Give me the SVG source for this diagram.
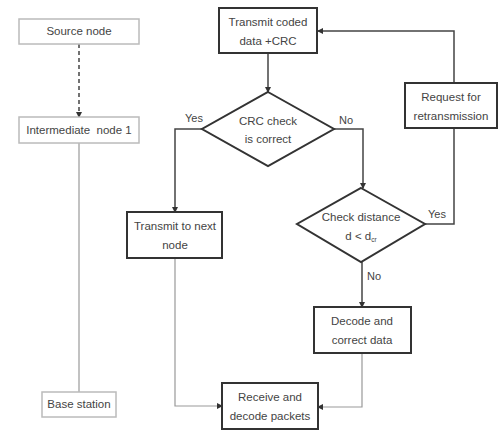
<svg xmlns="http://www.w3.org/2000/svg" width="498" height="431" viewBox="0 0 498 431">
<defs>
<style>
text{font-family:"Liberation Sans",Arial,sans-serif;font-size:11.5px;fill:#444;text-anchor:middle}
.lbl{text-anchor:start;font-size:11px}
.box{fill:#fff;stroke:#333;stroke-width:2}
.lbox{fill:#fff;stroke:#bbb;stroke-width:1.5}
.ln{fill:none;stroke:#444;stroke-width:1.5}
.lln{fill:none;stroke:#999;stroke-width:1.2}
</style>
<marker id="ah" markerWidth="6" markerHeight="6" refX="5" refY="3" orient="auto" markerUnits="userSpaceOnUse">
<path d="M0,0 L6,3 L0,6 z" fill="#333"/>
</marker>
</defs>
<rect width="498" height="431" fill="#fff"/>
<g id="connectors">
<line class="ln" x1="79" y1="44" x2="79" y2="117" stroke-dasharray="4,3" marker-end="url(#ah)"/>
<line class="lln" x1="79" y1="143" x2="79" y2="392"/>
<line class="ln" x1="268" y1="53" x2="268" y2="92" marker-end="url(#ah)"/>
<polyline class="ln" points="202,129 175,129 175,212" marker-end="url(#ah)"/>
<polyline class="ln" points="334,129 363,129 363,188" marker-end="url(#ah)"/>
<polyline class="ln" points="425,224 454,224 454,128"/>
<polyline class="ln" points="454,83 454,31 318,31" marker-end="url(#ah)"/>
<line class="ln" x1="362" y1="262" x2="362" y2="307" marker-end="url(#ah)"/>
<polyline class="lln" points="175,258 175,406 222,406" marker-end="url(#ah)"/>
<polyline class="lln" points="362,353 362,407 318,407" marker-end="url(#ah)"/>
</g>
<g id="source"><rect class="lbox" x="19" y="19" width="120" height="25"/><text x="79" y="35">Source node</text></g>
<g id="intermediate"><rect class="lbox" x="19" y="117" width="120" height="26"/><text x="79" y="134" xml:space="preserve">Intermediate  node 1</text></g>
<g id="base"><rect class="lbox" x="42" y="392" width="74" height="25"/><text x="79" y="408">Base station</text></g>
<g id="transmit"><rect class="box" x="219" y="8" width="98" height="45"/><text x="268" y="26">Transmit coded</text><text x="268" y="45">data +CRC</text></g>
<g id="crc"><polygon class="box" points="268,92 334,129 268,166 202,129"/><text x="268" y="125">CRC check</text><text x="268" y="143">is correct</text>
<text class="lbl" x="185" y="122">Yes</text><text class="lbl" x="339" y="124">No</text></g>
<g id="check"><polygon class="box" points="361,188 425,224 361,262 297,224"/><text x="361" y="221">Check distance</text><text x="361" y="240">d &lt; d<tspan font-size="6.5" dy="2">cr</tspan></text>
<text class="lbl" x="428" y="218">Yes</text><text class="lbl" x="367" y="280">No</text></g>
<g id="request"><rect class="box" x="405" y="83" width="92" height="45"/><text x="451" y="101">Request for</text><text x="451" y="120">retransmission</text></g>
<g id="next"><rect class="box" x="127" y="212" width="95" height="46"/><text x="175" y="230">Transmit to next</text><text x="175" y="249">node</text></g>
<g id="decode"><rect class="box" x="314" y="307" width="97" height="46"/><text x="362" y="325">Decode and</text><text x="362" y="344">correct data</text></g>
<g id="receive"><rect class="box" x="222" y="383" width="96" height="46"/><text x="270" y="401">Receive and</text><text x="270" y="420">decode packets</text></g>
</svg>
